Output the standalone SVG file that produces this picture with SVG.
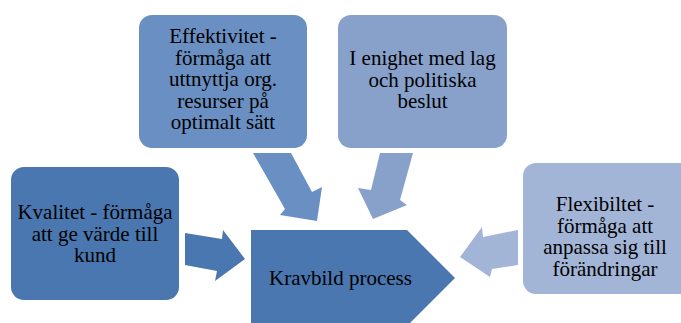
<svg xmlns="http://www.w3.org/2000/svg" width="681" height="323" viewBox="0 0 681 323">
  <style>
    .lbl { font-family: "Liberation Serif", "Times New Roman", serif; font-size: 21px; fill: #000; text-anchor: middle; }
    .c1 { fill: #4A77AF; }
    .c2 { fill: #6A8FC2; }
    .c3 { fill: #87A1CB; }
    .c4 { fill: #A3B5D7; }
  </style>
  <rect width="681" height="323" fill="#fff"/>

  <!-- block arrows pointing at the central process shape -->
  <g id="connectors">
    <polygon class="c1" points="185,233 222,239 223,230 245,259 215,281 217,271 185,265"/>
    <polygon class="c2" points="253,153 291,153 312,192 322,187 317,221 280,215 285,209"/>
    <polygon class="c3" points="380,153 413,153 400,200 407,205 373,219 358,188 371,190"/>
    <polygon class="c4" points="518,230 483,237 482,227 460,257 490,277 492,269 518,265"/>
  </g>

  <g id="kvalitet">
    <rect class="c1" x="11" y="167" width="168" height="133" rx="13"/>
    <text class="lbl" x="95" y="219">Kvalitet - förmåga</text>
    <text class="lbl" x="95" y="240.5">att ge värde till</text>
    <text class="lbl" x="95" y="262">kund</text>
  </g>

  <g id="effektivitet">
    <rect class="c2" x="139" y="15" width="168" height="133" rx="13"/>
    <text class="lbl" x="223" y="43">Effektivitet -</text>
    <text class="lbl" x="223" y="64.5">förmåga att</text>
    <text class="lbl" x="223" y="86">uttnyttja org.</text>
    <text class="lbl" x="223" y="107.5">resurser på</text>
    <text class="lbl" x="223" y="129">optimalt sätt</text>
  </g>

  <g id="enighet">
    <rect class="c3" x="338" y="15" width="169" height="133" rx="13"/>
    <text class="lbl" x="422.5" y="65">I enighet med lag</text>
    <text class="lbl" x="422.5" y="86.5">och politiska</text>
    <text class="lbl" x="422.5" y="108">beslut</text>
  </g>

  <g id="flexibilitet">
    <rect class="c4" x="523" y="163" width="170" height="131" rx="13"/>
    <text class="lbl" x="605" y="211">Flexibiltet -</text>
    <text class="lbl" x="605" y="232.5">förmåga att</text>
    <text class="lbl" x="605" y="254">anpassa sig till</text>
    <text class="lbl" x="605" y="275.5">förändringar</text>
  </g>

  <g id="kravbild">
    <polygon class="c1" points="251,230 407,230 455,278 407,326 251,326"/>
    <text class="lbl" x="340.5" y="285">Kravbild process</text>
  </g>
</svg>
